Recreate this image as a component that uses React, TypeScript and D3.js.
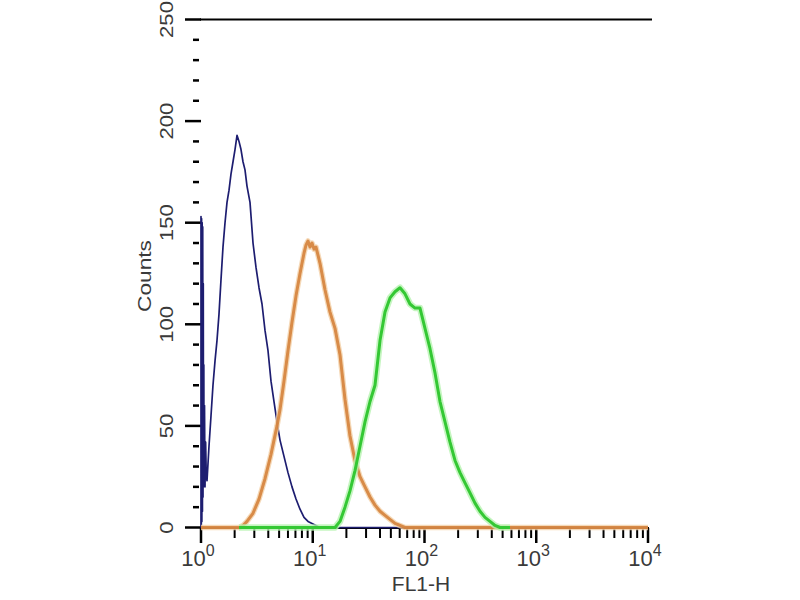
import React from "react";
import * as d3 from "d3";

// FL1-H (x) and Counts (y)
const blueX = [1.0, 1.0, 1.006, 1.012, 1.018, 1.024, 1.03, 1.036, 1.042, 1.048, 1.053, 1.06, 1.064, 1.075, 1.086, 1.1, 1.115, 1.132, 1.179, 1.229, 1.28, 1.335, 1.39, 1.449, 1.51, 1.573, 1.64, 1.709, 1.781, 1.856, 1.934, 2.015, 2.1, 2.188, 2.28, 2.376, 2.476, 2.58, 2.745, 2.92, 3.106, 3.304, 3.515, 3.739, 3.978, 4.231, 4.5, 4.787, 5.093, 5.529, 6.004, 6.521, 7.082, 7.691, 8.352, 9.07, 9.847, 10.69, 11.61, 10000];
const blueY = [0, 153, 0, 152, 3, 150, 8, 148, 15, 120, 20, 80, 22, 60, 20, 42, 25, 23, 40, 55, 70, 82, 92, 105, 122, 138, 150, 160, 166, 174, 180, 186, 193, 190, 186, 180, 176, 168, 160, 140, 128, 118, 110, 97, 87, 72, 62, 52, 43, 35, 27, 20, 14, 9, 5, 3, 2, 1, 0, 0];

const orangeX = [1.0, 2.188, 2.376, 2.58, 2.92, 3.304, 3.739, 4.231, 4.787, 5.093, 5.529, 6.004, 6.521, 7.082, 7.691, 8.352, 8.7, 9.07, 9.45, 9.847, 10.26, 10.69, 11.14, 11.61, 12.87, 14.27, 15.82, 17.53, 19.44, 21.54, 23.88, 26.48, 29.35, 32.54, 36.06, 39.98, 44.32, 49.13, 54.45, 60.37, 66.92, 10000];
const orangeY = [0, 0, 1, 3, 7, 14, 24, 36, 50, 58, 72, 87, 101, 114, 125, 135, 139, 141, 138, 140, 137, 138, 134, 130, 117, 106, 98, 85, 63, 45, 33, 25, 20, 15, 11, 8, 6, 4, 2, 1, 0, 0];

const greenX = [2.188, 15.82, 17.53, 19.44, 21.54, 23.88, 26.48, 29.35, 32.54, 36.06, 39.98, 44.32, 49.13, 54.45, 60.37, 66.92, 74.17, 82.22, 91.14, 101.0, 112.0, 124.2, 137.6, 152.6, 169.1, 187.5, 207.8, 230.4, 255.4, 283.1, 313.8, 347.8, 385.6, 427.5, 473.8, 582];
const greenY = [0, 0, 3, 10, 18, 28, 40, 52, 62, 70, 92, 106, 113, 116, 118, 115, 110, 108, 108, 98, 88, 76, 62, 52, 42, 33, 27, 22, 17, 12, 8, 5, 3, 1, 0, 0];

const yTickLabels = [0, 50, 100, 150, 200, 250];
const xDecades = [0, 1, 2, 3, 4];

const FONT = "'Liberation Sans', Arial, sans-serif";

export default function App() {
  const x = d3.scaleLog().domain([1, 10000]).range([201, 648]);
  const y = d3.scaleLinear().domain([0, 250]).range([527.5, 19.5]);
  const line = d3
    .line<[number, number]>()
    .x((d) => x(d[0]))
    .y((d) => y(d[1]));
  const zip = (a: number[], b: number[]) => a.map((v, i) => [v, b[i]] as [number, number]);
  const blue = line(zip(blueX, blueY)) || "";
  const orange = line(zip(orangeX, orangeY)) || "";
  const green = line(zip(greenX, greenY)) || "";

  const yTicks = d3.range(0, 251, 10);
  const xMinor: number[] = [];
  [1, 10, 100, 1000].forEach((dec) => {
    for (let k = 2; k <= 9; k++) xMinor.push(dec * k);
  });

  return (
    <svg
      width={800}
      height={600}
      style={{ position: "fixed", left: 0, top: 0, background: "#fff" }}
    >
      <rect x={0} y={0} width={800} height={600} fill="#fff" />
      {/* top frame line */}
      <line x1={200} x2={652} y1={19.5} y2={19.5} stroke="#000" strokeWidth={2} />
      {/* x axis line */}
      <line x1={201} x2={649} y1={528} y2={528} stroke="#000" strokeWidth={2} />
      {/* y ticks */}
      {yTicks.map((t) => (
        <line
          key={"yt" + t}
          x1={t % 50 === 0 ? 185 : 193}
          x2={t % 50 === 0 ? 201 : 199}
          y1={y(t)}
          y2={y(t)}
          stroke="#000"
          strokeWidth={2.5}
        />
      ))}
      {/* x ticks */}
      {xDecades.map((p) => (
        <line key={"xM" + p} x1={x(Math.pow(10, p))} x2={x(Math.pow(10, p))} y1={528} y2={543} stroke="#000" strokeWidth={2.5} />
      ))}
      {xMinor.map((v) => (
        <line key={"xm" + v} x1={x(v)} x2={x(v)} y1={528} y2={538} stroke="#000" strokeWidth={2} />
      ))}
      {/* y tick labels */}
      {yTickLabels.map((v) => {
        const s = String(v);
        return (
          <text
            key={"yl" + v}
            transform={`translate(167,${y(v)}) rotate(-90)`}
            textAnchor="middle"
            dominantBaseline="central"
            fontFamily={FONT}
            fontSize={17.5}
            fill="#3a3a3a"
            textLength={s.length * 12.3}
            lengthAdjust="spacingAndGlyphs"
          >
            {s}
          </text>
        );
      })}
      {/* x tick labels */}
      {xDecades.map((p) => (
        <text
          key={"xl" + p}
          x={x(Math.pow(10, p)) - 3}
          y={566}
          textAnchor="middle"
          fontFamily={FONT}
          fontSize={22}
          fill="#3a3a3a"
        >
          10
          <tspan fontSize={16} dy={-10}>
            {p}
          </tspan>
        </text>
      ))}
      {/* axis titles */}
      <text
        transform="translate(145,276) rotate(-90)"
        textAnchor="middle"
        dominantBaseline="central"
        fontFamily={FONT}
        fontSize={18}
        fill="#3a3a3a"
        textLength={72}
        lengthAdjust="spacingAndGlyphs"
      >
        Counts
      </text>
      <text x={421} y={591} textAnchor="middle" fontFamily={FONT} fontSize={21} fill="#3a3a3a">
        FL1-H
      </text>
      {/* curves */}
      <path d={blue} fill="none" stroke="#1d1d70" strokeWidth={1.7} strokeLinejoin="round" />
      <path d={orange} fill="none" stroke="#f3cfa6" strokeWidth={5.5} strokeLinejoin="round" opacity={0.8} />
      <path d={orange} fill="none" stroke="#d27d34" strokeWidth={3} strokeLinejoin="round" opacity={0.85} />
      <path d={green} fill="none" stroke="#b7f3b0" strokeWidth={6.5} strokeLinejoin="round" opacity={0.8} />
      <path d={green} fill="none" stroke="#34c834" strokeWidth={3} strokeLinejoin="round" />
    </svg>
  );
}
